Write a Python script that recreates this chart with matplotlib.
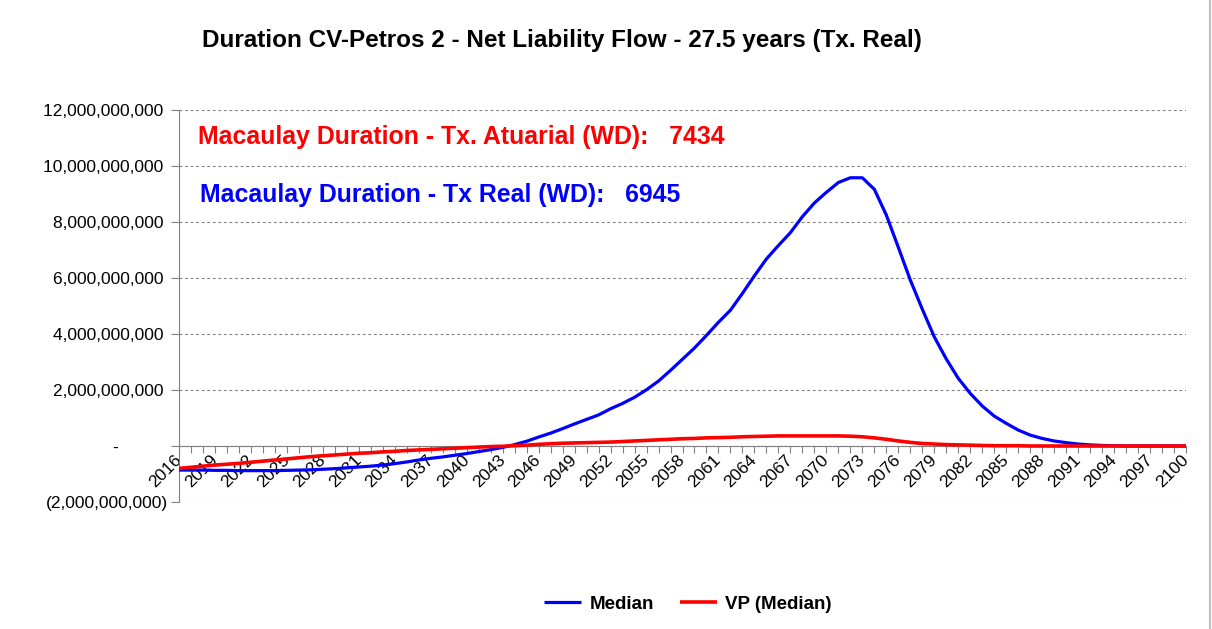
import matplotlib
matplotlib.use("Agg")
import matplotlib.pyplot as plt
from matplotlib.ticker import FuncFormatter
from matplotlib.lines import Line2D

plt.rcParams["font.family"] = ["Liberation Sans", "DejaVu Sans"]

years = list(range(2016, 2101))

# Median net liability flow, billions
median_bn = [
    -0.86, -0.86, -0.86, -0.87, -0.87, -0.88, -0.88, -0.88, -0.88, -0.87,
    -0.86, -0.85, -0.83, -0.81, -0.78, -0.75, -0.72, -0.68, -0.63, -0.57,
    -0.50, -0.44, -0.39, -0.33, -0.27, -0.20, -0.13, -0.05, 0.05, 0.17,
    0.32, 0.46, 0.62, 0.79, 0.95, 1.11, 1.33, 1.52, 1.74, 2.01,
    2.32, 2.70, 3.10, 3.50, 3.95, 4.42, 4.85, 5.45, 6.08, 6.68,
    7.16, 7.62, 8.19, 8.68, 9.06, 9.41, 9.58, 9.58, 9.17, 8.25,
    7.10, 5.93, 4.89, 3.90, 3.11, 2.42, 1.88, 1.43, 1.07, 0.81,
    0.57, 0.39, 0.27, 0.18, 0.12, 0.07, 0.04, 0.02, 0.01, 0.0,
    0.0, 0.0, 0.0, 0.0, 0.0,
]

# VP (median), billions
vp_bn = [
    -0.80, -0.76, -0.72, -0.68, -0.65, -0.62, -0.58, -0.54, -0.50, -0.46,
    -0.42, -0.38, -0.35, -0.32, -0.29, -0.26, -0.24, -0.21, -0.19, -0.16,
    -0.14, -0.12, -0.10, -0.08, -0.06, -0.04, -0.02, -0.01, 0.01, 0.03,
    0.06, 0.08, 0.10, 0.11, 0.12, 0.13, 0.14, 0.16, 0.18, 0.20,
    0.22, 0.24, 0.26, 0.27, 0.29, 0.30, 0.31, 0.33, 0.34, 0.35,
    0.36, 0.36, 0.36, 0.36, 0.36, 0.36, 0.35, 0.33, 0.29, 0.24,
    0.18, 0.13, 0.09, 0.07, 0.05, 0.04, 0.03, 0.02, 0.01, 0.01,
    0.01, 0.0, 0.0, 0.0, 0.0, 0.0, 0.0, 0.0, 0.0, 0.0,
    0.0, 0.0, 0.0, 0.0, 0.0,
]

median = [v * 1e9 for v in median_bn]
vp = [v * 1e9 for v in vp_bn]

title = "Duration CV-Petros 2 - Net Liability Flow - 27.5 years (Tx. Real)"
note_atuarial = "Macaulay Duration - Tx. Atuarial (WD):   7434"
note_real = "Macaulay Duration - Tx Real (WD):   6945"

GRAY = "#808080"

fig = plt.figure(figsize=(12.12, 6.29), dpi=100)
ax = fig.add_axes([179 / 1212, 1 - 502 / 629, 1007 / 1212, 392 / 629])

ax.plot(years, median, color="#0000ff", lw=2.3, label="Median", zorder=3, solid_capstyle="butt")
ax.plot(years, vp, color="#ff0000", lw=2.6, label="VP (Median)", zorder=4, solid_capstyle="butt")

ax.set_xlim(2016, 2100)
ax.set_ylim(-2e9, 12e9)

# spines first: moving a spine resets the ticks
for s in ["top", "right"]:
    ax.spines[s].set_visible(False)
ax.spines["bottom"].set_position(("data", 0))
ax.spines["bottom"].set_color(GRAY)
ax.spines["left"].set_color(GRAY)
ax.spines["bottom"].set_zorder(2)

yt = [i * 2e9 for i in range(-1, 7)]
ax.set_yticks(yt)


def fmt(v, pos):
    if abs(v) < 1:
        return "-          "
    if v < 0:
        return "({:,.0f})".format(-v)
    return "{:,.0f} ".format(v)


ax.yaxis.set_major_formatter(FuncFormatter(fmt))
ax.grid(axis="y", color=GRAY, lw=0.8, linestyle=(0, (2.5, 2.5)), zorder=0)
ax.set_axisbelow(True)

ax.set_xticks(years)
ax.set_xticklabels([str(y) if (y - 2016) % 3 == 0 else "" for y in years])
ax.tick_params(axis="x", direction="out", length=5, color=GRAY, pad=3, labelsize=12.5)
ax.tick_params(axis="y", direction="out", length=6, color=GRAY, labelsize=12.5, pad=2)
for lab in ax.get_xticklabels():
    lab.set_rotation(45)
    lab.set_ha("right")
    lab.set_va("center")
    lab.set_rotation_mode("anchor")

ax.text(0.019, 0.931, note_atuarial, transform=ax.transAxes, color="#ff0000",
        fontsize=17.9, fontweight="bold", ha="left", va="center")
ax.text(0.021, 0.783, note_real, transform=ax.transAxes, color="#0000ff",
        fontsize=17.9, fontweight="bold", ha="left", va="center")

fig.text(562 / 1212, 1 - 40 / 629, title, fontsize=17.5, fontweight="bold",
         ha="center", va="center")

fig.legend(loc="center", bbox_to_anchor=(688 / 1212, 1 - 604 / 629), ncol=2,
           frameon=False, prop={"weight": "bold", "size": 13.5},
           handlelength=1.95, handletextpad=0.45, columnspacing=1.4)

# chart area border on the right edge
fig.add_artist(Line2D([1209.5 / 1212, 1209.5 / 1212], [0, 1], color="#bfbfbf", lw=1.5,
                      transform=fig.transFigure))

fig.savefig("out.png", dpi=100)
